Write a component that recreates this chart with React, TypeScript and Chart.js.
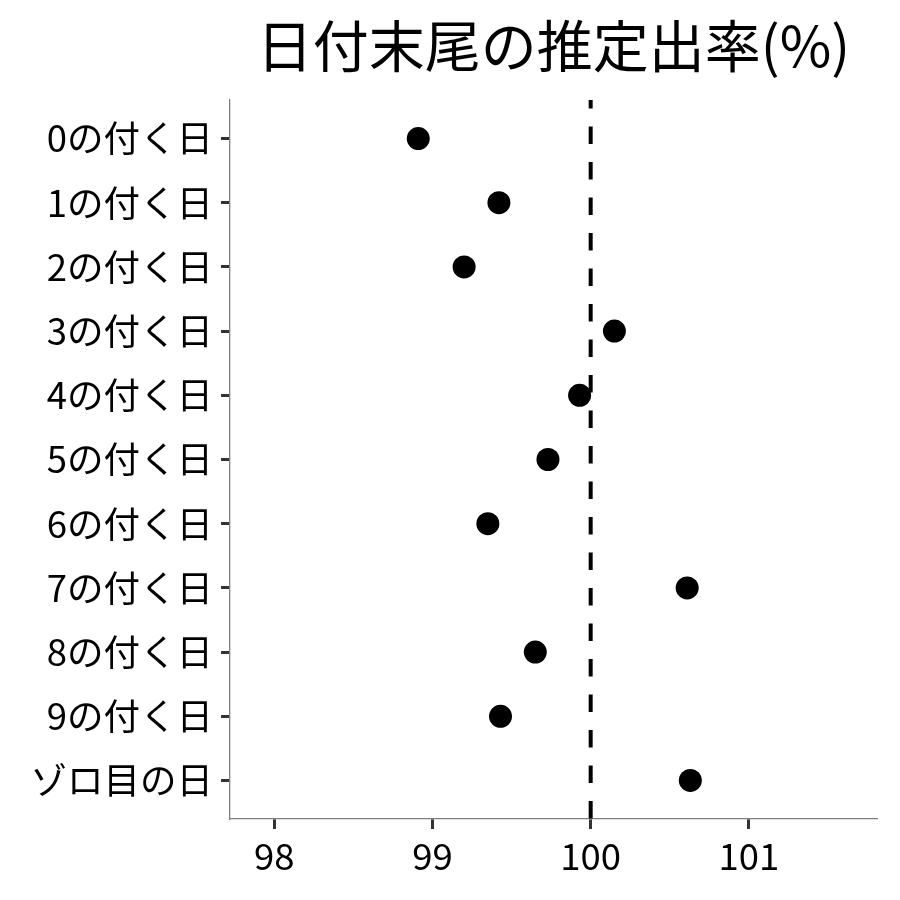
import React, { useEffect, useRef } from "react";
import { Chart, registerables } from "chart.js";

Chart.register(...registerables);

const categories = [
  "0の付く日",
  "1の付く日",
  "2の付く日",
  "3の付く日",
  "4の付く日",
  "5の付く日",
  "6の付く日",
  "7の付く日",
  "8の付く日",
  "9の付く日",
  "ゾロ目の日",
];
const rates = [98.91, 99.42, 99.2, 100.15, 99.93, 99.73, 99.35, 100.61, 99.65, 99.43, 100.63];
const xTicks = [98, 99, 100, 101];
const referenceRate = 100;
const titleText = "日付末尾の推定出率(%)";

const FONT = '"Noto Sans CJK JP", "Noto Sans", sans-serif';

export default function App() {
  const ref = useRef<HTMLCanvasElement | null>(null);

  useEffect(() => {
    document.body.style.margin = "0";
    const canvas = ref.current;
    if (!canvas) return;
    const yMin = -0.6;
    const yMax = categories.length - 1 + 0.6;
    const chart = new Chart(canvas, {
      type: "scatter",
      data: {
        datasets: [
          {
            type: "line",
            data: [
              { x: referenceRate, y: yMin },
              { x: referenceRate, y: yMax },
            ],
            borderColor: "#000",
            borderWidth: 4,
            borderDash: [17.5, 18],
            borderDashOffset: 9,
            pointRadius: 0,
            fill: false,
            order: 2,
          } as any,
          {
            type: "scatter",
            data: rates.map((v, i) => ({ x: v, y: i })),
            backgroundColor: "#000",
            borderColor: "#000",
            borderWidth: 0,
            pointRadius: 11.5,
            pointHoverRadius: 11.5,
            order: 1,
          },
        ],
      },
      options: {
        responsive: false,
        animation: false,
        devicePixelRatio: 1,
        layout: { padding: { top: 0, right: 23, bottom: 0, left: 0 } },
        plugins: {
          legend: { display: false },
          tooltip: { enabled: false },
          title: {
            display: true,
            text: titleText,
            fullSize: false,
            color: "#000",
            font: { family: FONT, size: 56, weight: "normal", lineHeight: 1.2 },
            padding: { top: 12.4, bottom: 20.4 },
          },
        },
        scales: {
          x: {
            type: "linear",
            min: 97.72,
            max: 101.81,
            afterBuildTicks: (s: any) => {
              s.ticks = xTicks.map((v) => ({ value: v }));
            },
            afterFit: (s: any) => {
              s.height = 81;
            },
            grid: {
              drawOnChartArea: false,
              drawTicks: true,
              tickLength: 10,
              tickColor: "#333",
              tickWidth: 3,
            },
            border: { color: "#7f7f7f", width: 1.3 },
            ticks: {
              color: "#000",
              font: { family: FONT, size: 36.5 },
              padding: 5,
              maxRotation: 0,
              autoSkip: false,
            },
          },
          y: {
            type: "linear",
            reverse: true,
            min: yMin,
            max: yMax,
            afterBuildTicks: (s: any) => {
              s.ticks = categories.map((_, i) => ({ value: i }));
            },
            afterFit: (s: any) => {
              s.width = 230;
            },
            grid: {
              drawOnChartArea: false,
              drawTicks: true,
              tickLength: 9,
              tickColor: "#333",
              tickWidth: 3,
            },
            border: { color: "#7f7f7f", width: 1.3 },
            ticks: {
              color: "#000",
              font: { family: FONT, size: 36.5 },
              padding: 8,
              autoSkip: false,
              callback: (v: any) => categories[Math.round(Number(v))] ?? "",
            },
          },
        },
      },
    });
    return () => chart.destroy();
  }, []);

  return (
    <div style={{ width: 900, height: 900 }}>
      <canvas ref={ref} width={900} height={900} />
    </div>
  );
}
